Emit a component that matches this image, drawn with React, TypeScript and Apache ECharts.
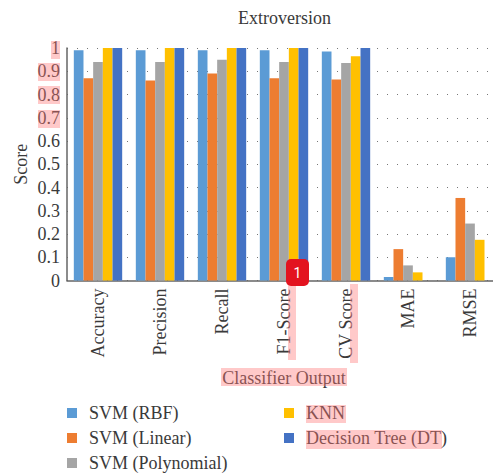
import React, { useEffect, useRef } from "react";
import * as echarts from "echarts";

const categories = ["Accuracy", "Precision", "Recall", "F1-Score", "CV Score", "MAE", "RMSE"];
const svmRbf = [0.99, 0.99, 0.99, 0.99, 0.985, 0.015, 0.1];
const svmLinear = [0.87, 0.86, 0.89, 0.87, 0.865, 0.135, 0.355];
const svmPoly = [0.94, 0.94, 0.95, 0.94, 0.935, 0.065, 0.245];
const knn = [1, 1, 1, 1, 0.965, 0.035, 0.175];
const decisionTree = [1, 1, 1, 1, 1, 0, 0];

const font = "Liberation Serif";
const textColor = "#3a3a3a";
const pink = "rgba(255,120,120,0.4)";

// [x, y, width, height] of the highlight marks
const highlights = [
  [51, 41, 9, 18],
  [38, 63, 22, 18],
  [38, 86, 22, 18],
  [38, 110, 22, 18],
  [288, 283, 8, 77],
  [350, 284, 8, 79],
  [221, 368, 126, 18],
  [306, 405, 40, 18],
  [306, 430, 136, 19],
];

export default function App() {
  const ref = useRef<HTMLDivElement>(null);
  useEffect(() => {
    const chart = echarts.init(ref.current!, undefined, { renderer: "svg" });
    const bar = (name: string, data: number[], color: string) => ({
      name,
      type: "bar" as const,
      data,
      barGap: 0,
      barCategoryGap: "22%",
      itemStyle: { color },
    });
    const legendBase = {
      orient: "vertical" as const,
      icon: "rect",
      itemWidth: 10,
      itemHeight: 10,
      itemGap: 5,
      padding: 0,
      height: 100,
      textStyle: { fontFamily: font, fontSize: 18, lineHeight: 20, color: textColor, padding: [0, 0, 0, 7] },
    };
    chart.setOption({
      animation: false,
      backgroundColor: "#fff",
      title: {
        text: "Extroversion",
        left: 238,
        top: 9,
        padding: 0,
        textStyle: { fontFamily: font, fontSize: 18, fontWeight: "normal", color: textColor },
      },
      grid: { left: 67, top: 48, width: 434, height: 232.5, outerBoundsMode: "none" },
      xAxis: {
        type: "category",
        data: categories,
        name: "Classifier Output",
        nameLocation: "middle",
        nameGap: 88,
        nameTextStyle: { fontFamily: font, fontSize: 18, color: textColor },
        axisTick: { show: false },
        axisLine: { lineStyle: { color: "#666", width: 1.5 } },
        axisLabel: {
          rotate: 90,
          margin: 8,
          interval: 0,
          fontFamily: font,
          fontSize: 18,
          color: textColor,
        },
      },
      yAxis: {
        type: "value",
        min: 0,
        max: 1,
        interval: 0.1,
        name: "Score",
        nameLocation: "middle",
        nameGap: 37,
        nameMoveOverlap: false,
        nameTextStyle: { fontFamily: font, fontSize: 18, color: textColor },
        axisTick: { show: false },
        axisLine: { show: true, lineStyle: { color: "#666", width: 1.5 } },
        axisLabel: { margin: 7, fontFamily: font, fontSize: 18, color: textColor },
        splitLine: { lineStyle: { color: "#777", width: 1, type: [1, 9] } },
      },
      legend: [
        { ...legendBase, left: 67, top: 403, data: ["SVM (RBF)", "SVM (Linear)", "SVM (Polynomial)"] },
        { ...legendBase, left: 284, top: 403, data: ["KNN", "Decision Tree (DT)"] },
      ],
      series: [
        bar("SVM (RBF)", svmRbf, "#5B9BD5"),
        bar("SVM (Linear)", svmLinear, "#ED7D31"),
        bar("SVM (Polynomial)", svmPoly, "#A5A5A5"),
        bar("KNN", knn, "#FFC000"),
        bar("Decision Tree (DT)", decisionTree, "#4472C4"),
      ],
      graphic: [
        ...highlights.map(([x, y, width, height]) => ({
          type: "rect",
          z: 100,
          silent: true,
          shape: { x, y, width, height },
          style: { fill: pink },
        })),
        {
          type: "rect",
          z: 101,
          silent: true,
          shape: { x: 286, y: 259, width: 23, height: 27, r: 5 },
          style: { fill: "#e3131f" },
        },
        {
          type: "text",
          z: 102,
          silent: true,
          x: 297.5,
          y: 272.5,
          style: {
            text: "1",
            fill: "#fff",
            font: "14px Roboto",
            textAlign: "center",
            textVerticalAlign: "middle",
          },
        },
      ],
    });
    return () => chart.dispose();
  }, []);
  return (
    <div style={{ position: "absolute", left: 0, top: 0, width: 493, height: 474, overflow: "hidden" }}>
      <div ref={ref} style={{ width: 493, height: 474 }} />
    </div>
  );
}
